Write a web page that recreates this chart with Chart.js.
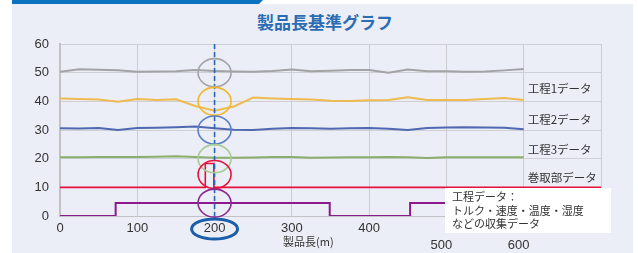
<!DOCTYPE html>
<html>
<head>
<meta charset="utf-8">
<script src="https://cdn.jsdelivr.net/npm/chart.js@4/dist/chart.umd.min.js"></script>
<style>
html, body { margin: 0; padding: 0; background: #fff; width: 638px; height: 253px; overflow: hidden; }
#panel { position: absolute; left: 12px; top: 4px; width: 621px; height: 249px; background: #ebedf7; }
#bar { position: absolute; left: 12px; top: 0; width: 251px; height: 4px; background: #0b72c1;
       clip-path: polygon(0 0, 100% 0, calc(100% - 4px) 100%, 0 100%); }
#title { position: absolute; left: 0; width: 650px; top: 9px; text-align: center;
         font: bold 17px "Noto Sans CJK JP"; color: #2b6cb3; }
#wrap { position: absolute; left: 0; top: 0; width: 638px; height: 253px; }
</style>
</head>
<body>
<div id="panel"></div>
<div id="bar"></div>
<div id="title">製品長基準グラフ</div>
<div id="wrap"><canvas id="chart" width="638" height="253"></canvas></div>
<script>
// product length (m) sample points
const LENGTH_M = [0, 25, 50, 75, 100, 125, 150, 175, 200, 225, 250, 275, 300,
                  325, 350, 375, 400, 425, 450, 475, 500, 525, 550, 575, 600];
const BASE_DATA = [50.3, 51.2, 51.0, 50.8, 50.3, 50.4, 50.5, 50.9, 50.6, 50.4, 50.3, 50.6, 51.1,
                   50.5, 50.7, 50.9, 50.9, 50.0, 51.1, 50.5, 50.5, 50.3, 50.4, 50.8, 51.3];
const PROC1_DATA = [41.0, 40.8, 40.6, 39.9, 40.8, 40.5, 40.7, 38.4, 36.7, 38.2, 41.3, 41.0, 40.8,
                    40.6, 40.2, 40.1, 40.4, 40.5, 41.4, 40.5, 40.5, 40.5, 40.8, 41.2, 40.5];
const PROC2_DATA = [30.6, 30.5, 30.7, 30.0, 30.7, 30.8, 31.0, 31.2, 30.6, 30.1, 30.0, 30.4, 30.7,
                    30.6, 30.4, 30.6, 30.7, 30.4, 30.0, 30.7, 30.9, 31.0, 30.9, 30.8, 30.3];
const PROC3_DATA = [20.5, 20.5, 20.6, 20.6, 20.6, 20.7, 20.8, 20.6, 20.3, 20.3, 20.4, 20.6, 20.6,
                    20.3, 20.4, 20.5, 20.5, 20.6, 20.5, 20.2, 20.5, 20.5, 20.5, 20.5, 20.5];
// step signals
const WIND_X = [0, 188, 188, 199, 199, 700];
const WIND_Y = [10, 10, 18.3, 18.3, 10, 10];
const PULSE_X = [0, 72, 72, 349, 349, 453, 453, 600];
const PULSE_Y = [0, 0, 4.5, 4.5, 0, 0, 4.5, 4.5];

const X_TICKS_LOW = [0, 100, 200, 300, 400];
const X_TICKS_SHIFTED = [500, 600];
const SERIES_LABELS = ["工程1データ", "工程2データ", "工程3データ", "巻取部データ"];
const SERIES_LABEL_AT = [44.3, 33.6, 23, 13.3];
const MARK_X = 200;
const MARK_Y = [50, 40, 30, 20, 14.5, 4.5];
const MARK_COLORS = ["#a4a4a6", "#f6b62c", "#5a7fc6", "#a6cc92", "#e4143c", "#8c2a90"];
const NOTE_LINES = ["工程データ：", "トルク・速度・温度・湿度", "などの収集データ"];

const pts = (xs, ys) => xs.map((x, i) => ({ x, y: ys[i] }));

function line(data, color, width) {
    return {
        data,
        borderColor: color,
        borderWidth: width,
        pointRadius: 0,
        showLine: true,
        tension: 0,
        fill: false,
    };
}

const overlay = {
    id: "overlay",
    afterDatasetsDraw(chart) {
        const { ctx, scales: { x, y } } = chart;
        const px = x.getPixelForValue(MARK_X);
        ctx.save();
        ctx.strokeStyle = "#2a66bb";
        ctx.lineWidth = 1.6;
        ctx.setLineDash([5, 3]);
        ctx.beginPath();
        ctx.moveTo(px, y.getPixelForValue(60));
        ctx.lineTo(px, y.getPixelForValue(0));
        ctx.stroke();
        ctx.setLineDash([]);
        MARK_Y.forEach((v, i) => {
            ctx.strokeStyle = MARK_COLORS[i];
            ctx.beginPath();
            ctx.ellipse(px, y.getPixelForValue(v), 16.5, 14, 0, 0, Math.PI * 2);
            ctx.stroke();
        });
        // ring around the 200 tick
        ctx.strokeStyle = "#1d5ea9";
        ctx.lineWidth = 3;
        ctx.beginPath();
        ctx.ellipse(px, y.bottom + 13, 23, 10, 0, 0, Math.PI * 2);
        ctx.stroke();
        ctx.restore();
    },
    afterDraw(chart) {
        const { ctx, scales: { x, y } } = chart;
        ctx.save();
        ctx.fillStyle = "#333";
        ctx.textBaseline = "middle";
        ctx.textAlign = "left";
        ctx.font = '11.5px "Noto Sans CJK JP"';
        SERIES_LABELS.forEach((t, i) => {
            ctx.fillText(t, x.getPixelForValue(600) + 4, y.getPixelForValue(SERIES_LABEL_AT[i]));
        });
        // note box
        ctx.fillStyle = "#fff";
        ctx.fillRect(445, 188, 166, 45);
        ctx.fillStyle = "#333";
        ctx.font = '11px "Noto Sans CJK JP"';
        NOTE_LINES.forEach((t, i) => ctx.fillText(t, 452, 197 + i * 13.5));
        // axis title and the two moved tick labels
        ctx.font = '11px "Noto Sans CJK JP"';
        ctx.fillText("製品長(m)", 283, 242);
        ctx.textAlign = "center";
        ctx.font = '13px "Liberation Sans"';
        X_TICKS_SHIFTED.forEach((v) => ctx.fillText(String(v), x.getPixelForValue(v) - 5, 245));
        ctx.restore();
    },
};

new Chart(document.getElementById("chart"), {
    type: "scatter",
    data: {
        datasets: [
            line(pts(LENGTH_M, BASE_DATA), "#a3a3a5", 2),
            line(pts(LENGTH_M, PROC1_DATA), "#eebb4e", 2),
            line(pts(LENGTH_M, PROC2_DATA), "#5068b0", 2),
            line(pts(LENGTH_M, PROC3_DATA), "#8cae6c", 2),
            line(pts(WIND_X, WIND_Y), "#e8103c", 1.6),
            line(pts(PULSE_X, PULSE_Y), "#8b1a8b", 2),
        ],
    },
    options: {
        responsive: false,
        animation: false,
        events: [],
        layout: { padding: { left: 0, right: 37, top: 44, bottom: 0 } },
        plugins: { legend: { display: false }, tooltip: { enabled: false } },
        scales: {
            x: {
                type: "linear",
                min: 0,
                max: 700,
                afterFit: (s) => { s.height = 37; },
                ticks: {
                    stepSize: 100,
                    padding: 5,
                    color: "#333",
                    font: { family: "Liberation Sans", size: 13 },
                    callback: (v) => (X_TICKS_LOW.includes(v) ? String(v) : ""),
                },
                grid: { color: "#cbcbd0", drawTicks: false },
                border: { color: "#c2c2c6", width: 1 },
            },
            y: {
                min: 0,
                max: 60,
                afterFit: (s) => { s.width = 60; },
                ticks: {
                    stepSize: 10,
                    padding: 11,
                    color: "#333",
                    font: { family: "Liberation Sans", size: 13 },
                },
                grid: { color: "#cfd0d6", drawTicks: false },
                border: { color: "#c2c2c6", width: 2 },
            },
        },
    },
    plugins: [overlay],
});
</script>
</body>
</html>
